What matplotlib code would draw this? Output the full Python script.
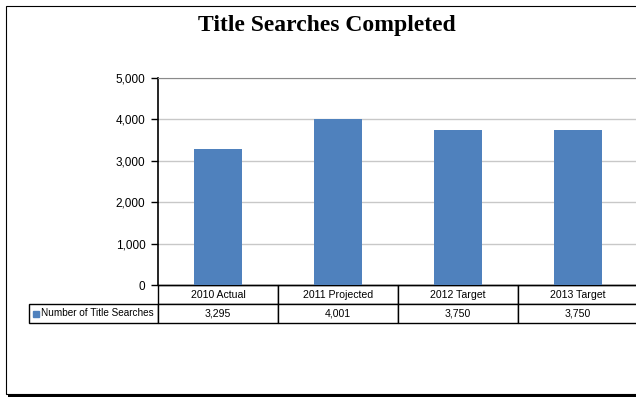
import matplotlib.pyplot as plt
from matplotlib.patches import Rectangle
import numpy as np

categories = ['2010 Actual', '2011 Projected', '2012 Target', '2013 Target']
values = [3295, 4001, 3750, 3750]
series_name = 'Number of Title Searches'
title = 'Title Searches Completed'

bar_color = '#4F81BD'
W, H = 636, 401

fig = plt.figure(figsize=(W / 100, H / 100), dpi=100)
plt.rcParams['font.family'] = ['Liberation Sans', 'DejaVu Sans']

# outer frame with shadow (right side is cut off like the reference)
fig.patches.append(Rectangle((8 / W, 1 - 397 / H), 1.0, (397 - 8) / H, transform=fig.transFigure,
                             facecolor='#000000', edgecolor='none', zorder=0))
fig.patches.append(Rectangle((6 / W, 1 - 394 / H), 1.0, (394 - 6) / H, transform=fig.transFigure,
                             facecolor='white', edgecolor='#000000', linewidth=0.8, zorder=1))

fig.text(327 / W, 1 - 26 / H, title, ha='center', va='center',
         fontsize=17, fontweight='bold', family='Liberation Serif')

# plot area
left, right, top, bottom = 158, 638, 78, 285
ax = fig.add_axes([left / W, 1 - bottom / H, (right - left) / W, (bottom - top) / H])
ax.set_zorder(2)
x = np.arange(len(categories))
ax.bar(x, values, width=0.4, color=bar_color, zorder=3)
ax.set_xlim(-0.5, len(categories) - 0.5)
ax.set_ylim(0, 5000)
ax.set_yticks(np.arange(0, 5001, 1000))
ax.yaxis.set_major_formatter(plt.FuncFormatter(lambda v, p: f'{int(v):,}'))
ax.tick_params(axis='y', labelsize=8.5, length=5, width=1, direction='out', pad=4)
ax.set_xticks([])
ax.grid(axis='y', color='#c8c8c8', linewidth=1, zorder=0)
ax.spines['right'].set_visible(False)
ax.spines['top'].set_color('#8a8a8a')
ax.spines['left'].set_linewidth(1.2)
ax.spines['bottom'].set_linewidth(1.0)
ax.set_facecolor('none')

# data table under the plot (first column holds the series label)
tab_left = 29
col_w = (right - left) / len(categories)
lab_w = left - tab_left
tot_w = right - tab_left
row_h = 19
tbl = ax.table(cellText=[['    ' + series_name] + [f'{v:,}' for v in values]],
               colLabels=[''] + categories,
               colWidths=[lab_w / tot_w] + [col_w / tot_w] * len(categories),
               cellLoc='center', colLoc='center',
               bbox=[(tab_left - left) / (right - left), -2 * row_h / (bottom - top),
                     tot_w / (right - left), 2 * row_h / (bottom - top)])
tbl.auto_set_font_size(False)
tbl.set_fontsize(7.6)
for (r, c), cell in tbl.get_celld().items():
    cell.set_linewidth(1.0)
    cell.set_edgecolor('black')
    if c == 0:
        cell.PAD = 0.006
        cell.get_text().set_ha('left')
        cell._loc = 'left'
        cell.get_text().set_fontsize(7.2)
        if r == 0:
            cell.set_visible(False)

# legend key in the row label cell
ax.plot([(36 - left) / (right - left)], [(bottom - 313.5) / (bottom - top)], 's',
        color=bar_color, markersize=4.5, transform=ax.transAxes, clip_on=False, zorder=5)

fig.savefig('out.png', dpi=100)
